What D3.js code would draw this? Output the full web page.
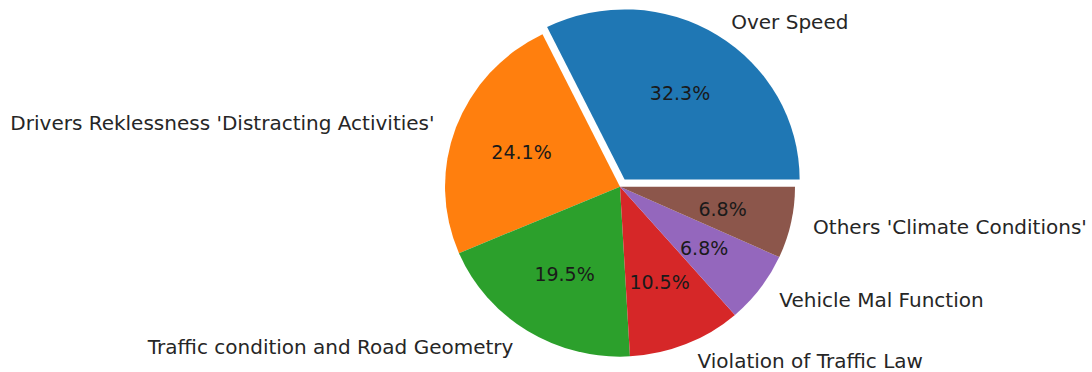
<!DOCTYPE html>
<html><head><meta charset="utf-8">
<script src="https://cdn.jsdelivr.net/npm/d3@7"></script>
<style>body{margin:0;background:#fff}svg{display:block}</style>
</head><body>
<svg id="c" width="1092" height="372"></svg>
<script>
const categories = ["Over Speed", "Drivers Reklessness 'Distracting Activities'", "Traffic condition and Road Geometry", "Violation of Traffic Law", "Vehicle Mal Function", "Others 'Climate Conditions'"];
const values = [32.3, 24.1, 19.5, 10.5, 6.8, 6.8];
const explode = [0.05, 0, 0, 0, 0, 0];
const colors = ["#1f77b4", "#ff7f0e", "#2ca02c", "#d62728", "#9467bd", "#8c564b"];

const W = 1092, H = 372;
const cx = 620, cy = 186.7, rx = 175, ry = 170;
const labelDist = 1.1, pctDist = 0.6, pad = 5;

const svg = d3.select("#c");
const data = categories.map((c, i) => ({c, v: values[i], e: explode[i], col: colors[i]}));
const pie = d3.pie().sort(null).value(d => d.v).startAngle(Math.PI / 2).endAngle(Math.PI / 2 - 2 * Math.PI);
const arcs = pie(data);
const arc = d3.arc().innerRadius(0).outerRadius(1);
const total = d3.sum(values);

const g = svg.append("g").attr("transform", `translate(${cx},${cy}) scale(${rx},${ry})`);
arcs.forEach(a => {
  const m = (a.startAngle + a.endAngle) / 2;
  const ox = a.data.e * Math.sin(m), oy = -a.data.e * Math.cos(m);
  g.append("path")
    .attr("d", arc(a))
    .attr("transform", `translate(${ox},${oy})`)
    .attr("fill", a.data.col);
});

const tg = svg.append("g");
arcs.forEach(a => {
  const m = (a.startAngle + a.endAngle) / 2;
  const ux = Math.sin(m), uy = -Math.cos(m);
  const ox = a.data.e * ux * rx, oy = a.data.e * uy * ry;
  tg.append("text")
    .attr("x", cx + ox + pctDist * rx * ux)
    .attr("y", cy + oy + pctDist * ry * uy)
    .attr("dy", "0.4em")
    .attr("text-anchor", "middle")
    .attr("font-family", "DejaVu Sans")
    .attr("font-size", 19)
    .attr("fill", "#1a1a1a")
    .text((a.data.v / total * 100).toFixed(1) + "%");
  const right = ux > 0;
  tg.append("text")
    .attr("x", cx + ox + labelDist * rx * ux + (right ? pad : -pad))
    .attr("y", cy + oy + labelDist * ry * uy)
    .attr("dy", "0.4em")
    .attr("text-anchor", right ? "start" : "end")
    .attr("font-family", "DejaVu Sans")
    .attr("font-size", 20)
    .attr("fill", "#262626")
    .text(a.data.c);
});
</script>
</body></html>
